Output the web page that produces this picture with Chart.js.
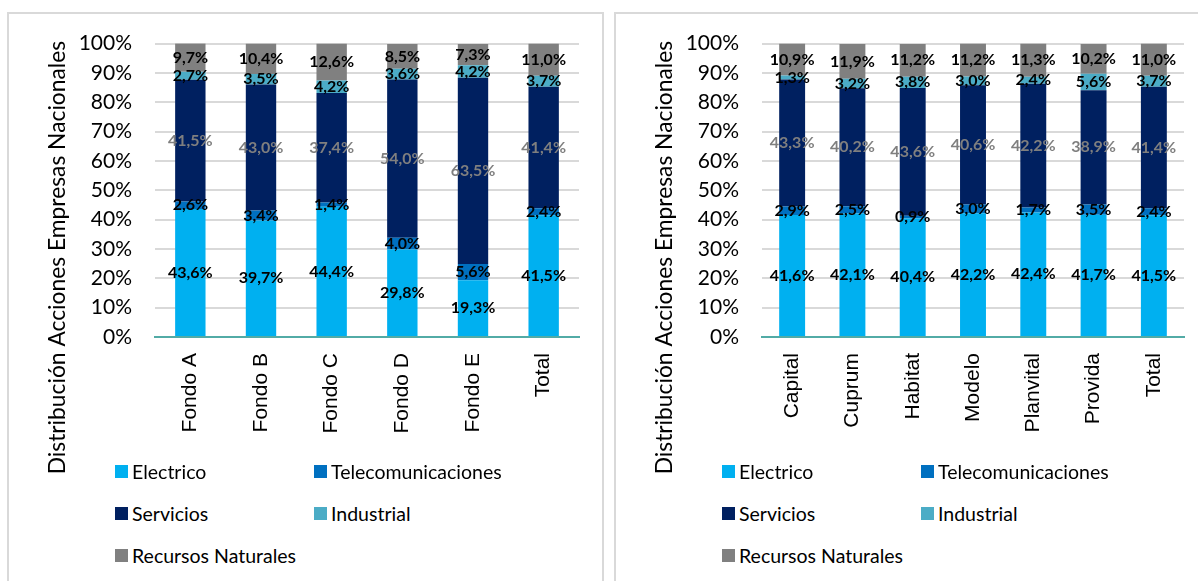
<!DOCTYPE html>
<html>
<head>
<meta charset="utf-8">
<script src="https://cdn.jsdelivr.net/npm/chart.js@4/dist/chart.umd.min.js"></script>
<style>
  body { margin: 0; background: #fff; width: 1198px; height: 581px; overflow: hidden; position: relative; font-family: Lato, sans-serif; }
  .panel { position: absolute; top: 12px; height: 600px; border: 2px solid #d9d9d9; box-sizing: border-box; }
  .box { position: absolute; left: 1px; top: -6px; height: 480px; }
  .legend { position: absolute; left: 0; top: 0; font-size: 19.5px; color: #000; }
  .item { position: absolute; display: flex; align-items: center; white-space: nowrap; }
  .item span.sw { display: inline-block; width: 13px; height: 13px; margin-right: 4px; }
</style>
</head>
<body>
<div class="panel" id="p1" style="left:7px;width:597px">
  <div class="box" style="width:591px"><canvas id="c1"></canvas></div>
  <div class="legend" id="l1"></div>
</div>
<div class="panel" id="p2" style="left:614px;width:600px">
  <div class="box" style="width:582px"><canvas id="c2"></canvas></div>
  <div class="legend" id="l2"></div>
</div>
<script>
const seriesNames = ["Electrico", "Telecomunicaciones", "Servicios", "Industrial", "Recursos Naturales"];
const seriesColors = ["#00b0f0", "#0070c0", "#002060", "#4bacc6", "#808080"];

// panel izquierdo: por fondo
const fondos = ["Fondo A", "Fondo B", "Fondo C", "Fondo D", "Fondo E", "Total"];
const fElectrico = [43.6, 39.7, 44.4, 29.8, 19.3, 41.5];
const fTelecom = [2.6, 3.4, 1.4, 4.0, 5.6, 2.4];
const fServicios = [41.5, 43.0, 37.4, 54.0, 63.5, 41.4];
const fIndustrial = [2.7, 3.5, 4.2, 3.6, 4.2, 3.7];
const fRecursos = [9.7, 10.4, 12.6, 8.5, 7.3, 11.0];

// panel derecho: por AFP
const afps = ["Capital", "Cuprum", "Habitat", "Modelo", "Planvital", "Provida", "Total"];
const aElectrico = [41.6, 42.1, 40.4, 42.2, 42.4, 41.7, 41.5];
const aTelecom = [2.9, 2.5, 0.9, 3.0, 1.7, 3.5, 2.4];
const aServicios = [43.3, 40.2, 43.6, 40.6, 42.2, 38.9, 41.4];
const aIndustrial = [1.3, 3.2, 3.8, 3.0, 2.4, 5.6, 3.7];
const aRecursos = [10.9, 11.9, 11.2, 11.2, 11.3, 10.2, 11.0];

const yTicks = [0, 10, 20, 30, 40, 50, 60, 70, 80, 90, 100];
const yTitle = "Distribución Acciones Empresas Nacionales";

const barLabels = {
  id: "barLabels",
  afterDatasetsDraw(chart) {
    const ctx = chart.ctx;
    ctx.save();
    ctx.font = "bold 16px Lato";
    ctx.textAlign = "center";
    ctx.textBaseline = "middle";
    chart.data.datasets.forEach((ds, i) => {
      const meta = chart.getDatasetMeta(i);
      ctx.fillStyle = i === 2 ? "#7f7f7f" : "#000";
      meta.data.forEach((bar, j) => {
        const v = ds.data[j];
        ctx.fillText(v.toFixed(1).replace(".", ",") + "%", bar.x, (bar.y + bar.base) / 2);
      });
    });
    ctx.restore();
  }
};

const sideTitle = {
  id: "sideTitle",
  afterDraw(chart) {
    const ctx = chart.ctx;
    ctx.save();
    // centrado sobre el gráfico + leyenda, no sólo el área de barras
    ctx.translate(chart.chartArea.left - 97, chart.chartArea.top + 214);
    ctx.rotate(-Math.PI / 2);
    ctx.font = "22.8px Lato";
    ctx.fillStyle = "#000";
    ctx.textAlign = "center";
    ctx.textBaseline = "middle";
    ctx.fillText(yTitle, 0, 0);
    ctx.restore();
  }
};

function makeChart(id, labels, values, rightPad) {
  const datasets = values.map((d, i) => ({
    label: seriesNames[i],
    data: d,
    backgroundColor: seriesColors[i],
    borderWidth: 0,
    barPercentage: 0.43,
    categoryPercentage: 1
  }));
  return new Chart(document.getElementById(id), {
    type: "bar",
    data: { labels: labels, datasets: datasets },
    options: {
      responsive: true,
      maintainAspectRatio: false,
      animation: false,
      layout: { padding: { top: 20, right: rightPad, bottom: 29, left: 0 } },
      plugins: { legend: { display: false }, tooltip: { enabled: false } },
      scales: {
        x: {
          stacked: true,
          grid: { display: false },
          border: { color: "#52aba6", width: 2 },
          ticks: {
            minRotation: 90, maxRotation: 90, padding: 8,
            color: "#000", font: { family: "Liberation Sans", size: 21 }
          },
          afterFit(scale) { scale.height = 122; }
        },
        y: {
          stacked: true,
          min: 0, max: 100,
          afterBuildTicks(scale) { scale.ticks = yTicks.map(v => ({ value: v })); },
          grid: {
            color: c => (c.tick && c.tick.value === 0 ? "rgba(0,0,0,0)" : "#d9d9d9"),
            lineWidth: 2,
            drawTicks: false
          },
          border: { display: false },
          ticks: {
            padding: 23, color: "#000",
            font: { family: "Lato", size: 21 },
            callback: v => v + "%"
          },
          afterFit(scale) { scale.width = 145; }
        }
      }
    },
    plugins: [barLabels, sideTitle]
  });
}

function makeLegend(id) {
  const el = document.getElementById(id);
  const pos = [[106, 446], [305, 446], [106, 488], [305, 488], [106, 530]];
  seriesNames.forEach((name, i) => {
    const it = document.createElement("div");
    it.className = "item";
    it.style.left = pos[i][0] + "px";
    it.style.top = pos[i][1] + "px";
    it.innerHTML = '<span class="sw" style="background:' + seriesColors[i] + '"></span>' + name;
    el.appendChild(it);
  });
}

makeChart("c1", fondos, [fElectrico, fTelecom, fServicios, fIndustrial, fRecursos], 22);
makeChart("c2", afps, [aElectrico, aTelecom, aServicios, aIndustrial, aRecursos], 15);
makeLegend("l1");
makeLegend("l2");
</script>
</body>
</html>
